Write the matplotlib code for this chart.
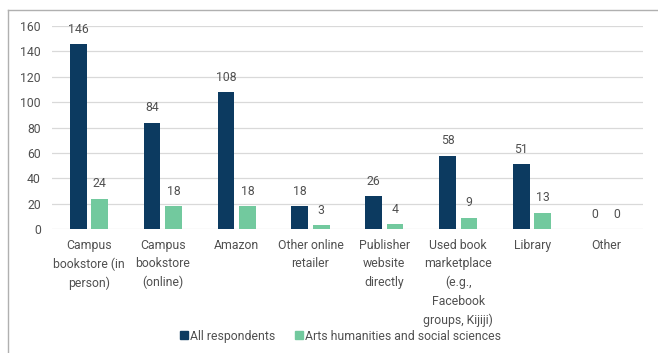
import matplotlib.pyplot as plt
import numpy as np
from matplotlib.lines import Line2D

categories = [
    "Campus\nbookstore (in\nperson)",
    "Campus\nbookstore\n(online)",
    "Amazon",
    "Other online\nretailer",
    "Publisher\nwebsite\ndirectly",
    "Used book\nmarketplace\n(e.g.,\nFacebook\ngroups, Kijiji)",
    "Library",
    "Other",
]
all_respondents = [146, 84, 108, 18, 26, 58, 51, 0]
arts_social = [24, 18, 18, 3, 4, 9, 13, 0]

DARK = "#0c3a60"
GREEN = "#72c99e"
TEXT = "#505050"
FS = 8.8

plt.rcParams['font.family'] = ['Roboto', 'DejaVu Sans']

fig = plt.figure(figsize=(6.58, 3.53), dpi=100)
ax = fig.add_axes([0.079, 0.351, 0.898, 0.575])

x = np.arange(len(categories))
w = 0.226
off = 0.145
b1 = ax.bar(x - off, all_respondents, w, color=DARK, zorder=3)
b2 = ax.bar(x + off, arts_social, w, color=GREEN, zorder=3)

for bars, vals in ((b1, all_respondents), (b2, arts_social)):
    for bar, v in zip(bars, vals):
        ax.annotate(str(v), (bar.get_x() + bar.get_width() / 2, v),
                    xytext=(0, 6), textcoords='offset points',
                    ha='center', va='bottom', fontsize=FS, color=TEXT)

ax.set_xlim(-0.5, len(categories) - 0.5)
ax.set_ylim(0, 160)
ax.set_yticks(range(0, 161, 20))
ax.yaxis.grid(True, color="#d9d9d9", linewidth=0.9, zorder=0)
ax.set_axisbelow(True)
for s in ax.spines.values():
    s.set_visible(False)
ax.tick_params(axis='both', length=0, labelsize=FS, labelcolor=TEXT)
ax.tick_params(axis='y', pad=8)
ax.set_xticks(x)
ax.set_xticklabels(categories, va='top', linespacing=1.55)
ax.tick_params(axis='x', pad=7)

handles = [Line2D([], [], marker='s', linestyle='', color=DARK, markersize=5.5),
           Line2D([], [], marker='s', linestyle='', color=GREEN, markersize=5.5)]
fig.legend(handles, ["All respondents", "Arts humanities and social sciences"],
           loc='center', bbox_to_anchor=(0.517, 0.048), ncol=2, frameon=False,
           fontsize=FS, labelcolor=TEXT, handletextpad=0.1, columnspacing=1.5,
           handlelength=0.8)

# thin frame along the top and left edges
fig.add_artist(Line2D([8 / 658, 1], [1 - 9.5 / 353] * 2, transform=fig.transFigure,
                      color="#b0b0b0", linewidth=1))
fig.add_artist(Line2D([8 / 658] * 2, [0, 1 - 9.5 / 353], transform=fig.transFigure,
                      color="#b0b0b0", linewidth=1))

fig.savefig("out.png", dpi=100)
